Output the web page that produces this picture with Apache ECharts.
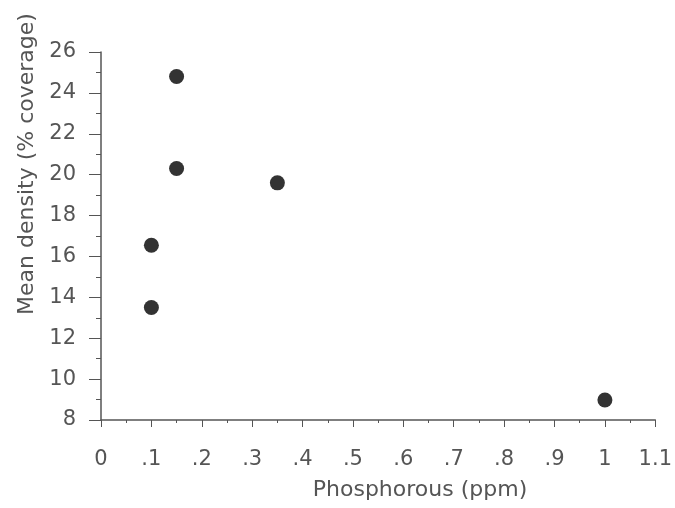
<!DOCTYPE html>
<html>
<head>
<meta charset="utf-8">
<title>Mean density vs phosphorous</title>
<script src="https://cdn.jsdelivr.net/npm/echarts@6/dist/echarts.min.js"></script>
<style>
  html, body { margin: 0; padding: 0; background: #fff; }
  #chart { width: 675px; height: 508px; }
</style>
</head>
<body>
<div id="chart"></div>
<script>
// data
const phosphorous = [0.15, 0.15, 0.35, 0.1, 0.1, 1.0];
const density = [24.8, 20.3, 19.6, 16.55, 13.5, 8.98];
const xTickLabels = ["0", ".1", ".2", ".3", ".4", ".5", ".6", ".7", ".8", ".9", "1", "1.1"];
const yTicks = [8, 10, 12, 14, 16, 18, 20, 22, 24, 26];

const ink = "#555";
const font = "DejaVu Sans";

const chart = echarts.init(document.getElementById("chart"));

chart.setOption({
  backgroundColor: "#fff",
  animation: false,
  grid: { left: 101, right: 18, top: 52, bottom: 88 },
  xAxis: {
    type: "value",
    min: 0,
    max: 1.1,
    interval: 0.1,
    axisLine: { lineStyle: { color: ink, width: 1.5 } },
    axisTick: { length: 7, lineStyle: { color: ink, width: 1 } },
    minorTick: { show: true, splitNumber: 2, length: 3, lineStyle: { color: ink } },
    splitLine: { show: false },
    axisLabel: {
      margin: 29,
      color: ink,
      fontFamily: font,
      fontSize: 21,
      formatter: (v) => xTickLabels[Math.round(v * 10)] || "",
    },
  },
  yAxis: {
    type: "value",
    min: yTicks[0],
    max: yTicks[yTicks.length - 1],
    interval: 2,
    axisLine: { show: true, lineStyle: { color: ink, width: 1.5 } },
    axisTick: { show: true, length: 12, lineStyle: { color: ink, width: 1 } },
    minorTick: { show: true, splitNumber: 2, length: 5, lineStyle: { color: ink } },
    splitLine: { show: false },
    axisLabel: {
      margin: 25,
      color: ink,
      fontFamily: font,
      fontSize: 21,
    },
  },
  // axis titles sit off-centre in the original, so place them by hand
  graphic: [
    {
      type: "text",
      x: 420,
      y: 490,
      style: {
        text: "Phosphorous (ppm)",
        fill: ink,
        font: "22px '" + font + "'",
        align: "center",
        verticalAlign: "middle",
      },
    },
    {
      type: "text",
      x: 27,
      y: 164,
      rotation: Math.PI / 2,
      style: {
        text: "Mean density (% coverage)",
        fill: ink,
        font: "22px '" + font + "'",
        align: "center",
        verticalAlign: "middle",
      },
    },
  ],
  series: [
    {
      type: "scatter",
      data: phosphorous.map((p, i) => [p, density[i]]),
      symbolSize: 15,
      itemStyle: { color: "#333", opacity: 1 },
    },
  ],
});

window.addEventListener("resize", () => chart.resize());
</script>
</body>
</html>
